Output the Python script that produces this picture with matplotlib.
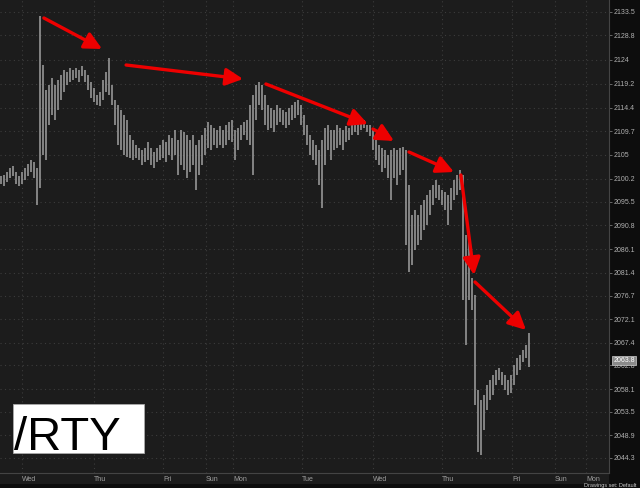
import matplotlib
matplotlib.use("Agg")
import matplotlib.pyplot as plt
from matplotlib.patches import Rectangle

# -----------------------------
# --- Data (bar highs / lows)
# -----------------------------
highs = [
    2100.7, 2100.9, 2101.5, 2102.3, 2102.7, 2101.5, 2100.7, 2101.5, 2102.3, 2103.1,
    2103.9, 2103.5, 2102.3, 2132.7, 2122.9, 2117.9, 2118.9, 2120.3, 2118.9, 2119.9,
    2120.9, 2121.9, 2121.5, 2122.3, 2121.9, 2122.3, 2121.9, 2122.7, 2121.9, 2120.9,
    2119.5, 2118.3, 2116.9, 2117.5, 2119.9, 2121.5, 2124.3, 2118.9, 2115.9, 2114.9,
    2113.9, 2112.9, 2111.9, 2108.9, 2107.9, 2106.9, 2106.3, 2105.9, 2106.3, 2107.5,
    2106.3, 2105.5, 2106.3, 2106.9, 2107.9, 2107.5, 2108.9, 2108.3, 2109.9, 2107.9,
    2109.9, 2109.5, 2108.9, 2107.9, 2108.9, 2106.9, 2107.9, 2108.9, 2110.3, 2111.5,
    2110.9, 2110.3, 2109.9, 2110.7, 2109.9, 2110.9, 2111.5, 2111.9, 2109.9, 2110.3,
    2110.9, 2111.5, 2111.9, 2114.9, 2116.9, 2118.9, 2119.5, 2118.9, 2116.9, 2114.9,
    2114.3, 2113.9, 2114.9, 2114.3, 2113.9, 2113.5, 2114.3, 2114.9, 2115.5, 2115.9,
    2114.9, 2112.9, 2110.9, 2108.9, 2107.9, 2106.9, 2105.9, 2107.9, 2110.3, 2110.9,
    2109.9, 2109.9, 2110.9, 2110.3, 2109.9, 2110.7, 2110.3, 2112.3, 2111.9, 2111.1,
    2111.5, 2111.9, 2110.9, 2110.9, 2109.9, 2107.9, 2106.9, 2106.3, 2105.9, 2104.9,
    2105.9, 2106.3, 2105.9, 2106.3, 2106.5, 2105.9, 2098.9, 2092.9, 2093.9, 2092.9,
    2094.9, 2095.9, 2096.9, 2097.9, 2098.9, 2099.9, 2098.9, 2097.9, 2097.5, 2096.9,
    2098.3, 2099.9, 2100.9, 2101.9, 2100.9, 2088.9, 2087.9, 2080.3, 2076.9, 2057.9,
    2055.9, 2056.9, 2058.9, 2059.9, 2060.9, 2061.9, 2062.3, 2061.5, 2060.9, 2059.9,
    2060.9, 2062.9, 2064.3, 2064.9, 2065.9, 2066.9, 2069.3,
]
lows = [
    2099.1, 2098.7, 2099.5, 2100.3, 2100.7, 2099.1, 2098.7, 2099.1, 2099.9, 2100.7,
    2101.5, 2100.3, 2094.9, 2098.3, 2104.9, 2103.9, 2110.9, 2112.9, 2111.9, 2113.9,
    2115.9, 2117.5, 2118.9, 2119.5, 2119.9, 2120.3, 2119.5, 2120.7, 2119.5, 2117.9,
    2116.3, 2115.5, 2114.9, 2114.7, 2115.9, 2117.5, 2116.9, 2114.9, 2110.9, 2106.9,
    2105.9, 2104.9, 2104.5, 2104.3, 2103.9, 2104.3, 2103.9, 2102.9, 2103.5, 2103.9,
    2102.9, 2102.3, 2103.5, 2103.9, 2104.3, 2103.5, 2104.9, 2103.9, 2104.9, 2100.9,
    2102.9, 2101.9, 2100.3, 2101.5, 2102.9, 2097.9, 2100.9, 2102.9, 2104.9, 2106.3,
    2105.9, 2106.9, 2106.3, 2106.9, 2106.3, 2106.9, 2107.9, 2107.5, 2103.9, 2105.9,
    2107.9, 2108.9, 2107.9, 2106.9, 2100.9, 2111.9, 2114.9, 2113.9, 2110.9, 2109.9,
    2110.3, 2109.5, 2110.9, 2111.5, 2110.9, 2110.3, 2110.9, 2111.9, 2112.3, 2112.9,
    2110.9, 2108.9, 2106.9, 2104.9, 2103.9, 2102.9, 2098.9, 2094.3, 2102.9, 2105.9,
    2103.9, 2105.9, 2106.3, 2106.9, 2105.9, 2107.5, 2107.9, 2108.9, 2109.5, 2108.9,
    2109.9, 2110.3, 2109.5, 2108.7, 2105.9, 2103.9, 2102.9, 2101.5, 2102.3, 2100.3,
    2095.9, 2100.3, 2098.9, 2100.9, 2101.9, 2086.9, 2081.5, 2082.9, 2085.9, 2086.9,
    2087.9, 2089.9, 2090.9, 2092.9, 2094.9, 2096.3, 2095.9, 2094.9, 2093.9, 2090.9,
    2093.9, 2095.9, 2096.9, 2097.9, 2075.9, 2066.9, 2075.9, 2073.9, 2054.9, 2045.5,
    2044.9, 2049.9, 2053.9, 2055.9, 2056.9, 2058.9, 2059.9, 2058.9, 2057.9, 2056.9,
    2057.3, 2058.9, 2060.9, 2061.9, 2063.5, 2064.3, 2062.5,
]
last_price = 2063.8

y_ticks = [2133.5, 2128.8, 2124, 2119.2, 2114.4, 2109.7, 2105, 2100.2, 2095.5, 2090.8,
           2086.1, 2081.4, 2076.7, 2072.1, 2067.4, 2062.8, 2058.1, 2053.5, 2048.9, 2044.3]
day_labels = ["Wed", "Thu", "Fri", "Sun", "Mon", "Tue", "Wed", "Thu", "Fri", "Sun", "Mon"]
day_starts = [7, 31, 54, 68.33, 77.33, 100.33, 124, 147, 170.33, 184.67, 195]

# red trend arrows: (start bar, start price, end bar, end price)
arrows = [
    (14.3, 2132.3, 33.7, 2126.1),
    (41.7, 2122.9, 80.7, 2120.1),
    (88.3, 2119.1, 122.3, 2111.1),
    (124.0, 2110.1, 131.0, 2107.7),
    (136.0, 2105.5, 151.0, 2101.5),
    (153.3, 2100.9, 157.7, 2080.9),
    (158.0, 2079.5, 175.0, 2069.9),
]

# -----------------------------
# --- Figure
# -----------------------------
fig = plt.figure(figsize=(6.4, 4.88), dpi=100)
fig.patch.set_facecolor("#0d0d0d")
W, H = 640, 488

# label strip under the plot, same tone as plot area
fig.patches.append(Rectangle((0, (H - 484) / H), 609 / W, 11 / H,
                             transform=fig.transFigure, facecolor="#1c1c1c",
                             edgecolor="none", zorder=-5))

ax = fig.add_axes([0, (H - 473) / H, 609 / W, 473 / H])
ax.set_facecolor("#1c1c1c")
ax.set_xlim(-1 / 3, 202.67)
ax.set_ylim(2135.9 - 473 / 5, 2135.9)

bars = list(range(len(highs)))
ax.vlines(bars, lows, highs, color="#a0a0a0", linewidth=1.1, zorder=3)

# grid
for y in y_ticks:
    ax.axhline(y, color="#3c3c3c", linestyle=(0, (1, 3)), linewidth=0.8, zorder=1)
for x in day_starts:
    ax.axvline(x, color="#3c3c3c", linestyle=(0, (1, 3)), linewidth=0.8, zorder=1)

for s in ["top", "left"]:
    ax.spines[s].set_visible(False)
ax.spines["bottom"].set_color("#444444")
ax.spines["right"].set_color("#444444")

ax.yaxis.tick_right()
ax.set_yticks(y_ticks)
ax.set_yticklabels([f"{v:g}" for v in y_ticks])
ax.tick_params(axis="y", length=2, width=0.6, color="#777777", labelsize=5,
               labelcolor="#b0b0b0", pad=1)
ax.set_xticks(day_starts)
ax.set_xticklabels(day_labels, ha="left")
ax.tick_params(axis="x", length=0, labelsize=5, labelcolor="#a0a0a0", pad=2)
for lbl in ax.get_xticklabels() + ax.get_yticklabels():
    lbl.set_fontfamily("Liberation Sans")

# last price tag
ax.annotate(f"{last_price}", xy=(1, last_price), xycoords=("axes fraction", "data"),
            xytext=(3, 0), textcoords="offset points", va="center", ha="left",
            fontsize=5, color="#ffffff", family="Liberation Sans",
            bbox=dict(boxstyle="square,pad=0.15", facecolor="#8a8a8a", edgecolor="#cfcfcf",
                      linewidth=0.5), annotation_clip=False, zorder=6)

# red arrows
for x0, y0, x1, y1 in arrows:
    ax.annotate("", xy=(x1, y1), xytext=(x0, y0),
                arrowprops=dict(arrowstyle="-|>,head_length=0.8,head_width=0.4",
                                color="#ee0000", lw=2.4, shrinkA=0, shrinkB=0,
                                mutation_scale=13), zorder=5)

# symbol box
fig.patches.append(Rectangle((13 / W, (H - 453) / H), 131 / W, 49 / H,
                             transform=fig.transFigure, facecolor="white",
                             edgecolor="#aaaaaa", linewidth=0.6, zorder=10))
fig.text(14 / W, (H - 450) / H, "/RTY", fontsize=34, color="black",
         family="Liberation Sans", ha="left", va="baseline", zorder=11)

# status strip text
fig.text(584 / W, 0 / H, "Drawings set: Default", fontsize=4, color="#cccccc",
         family="Liberation Sans", ha="left", va="bottom")

fig.savefig("out.png", dpi=100, facecolor=fig.get_facecolor())
